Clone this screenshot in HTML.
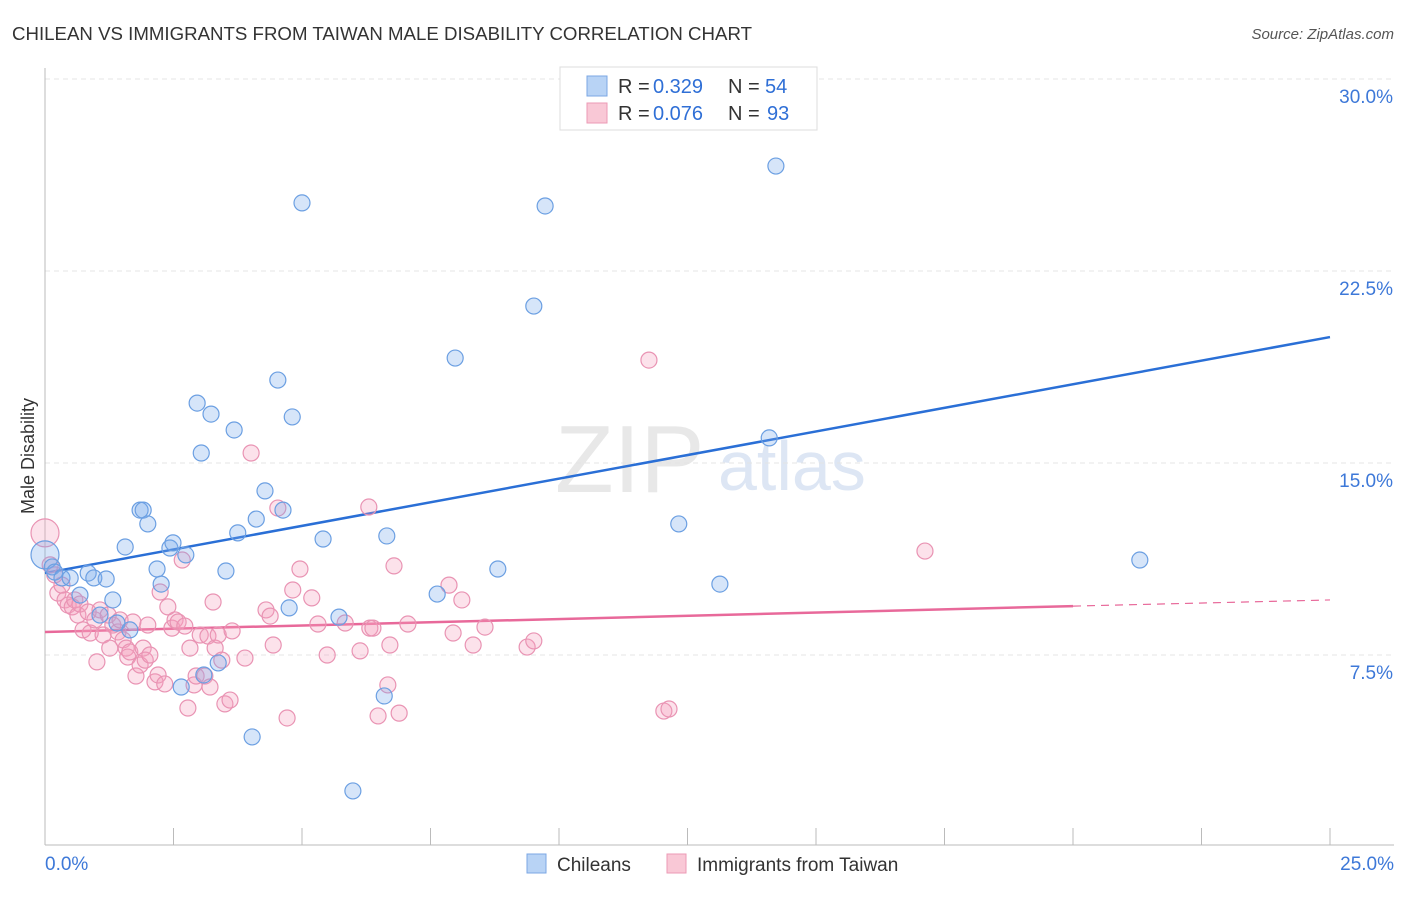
<!DOCTYPE html>
<html><head><meta charset="utf-8"><style>
body{margin:0;background:#fff;font-family:"Liberation Sans",sans-serif;}
svg text{font-family:"Liberation Sans",sans-serif;}
</style></head><body>
<svg id="chart" width="1406" height="892" xmlns="http://www.w3.org/2000/svg">
<text x="12" y="40" font-size="18" fill="#333" textLength="740" lengthAdjust="spacingAndGlyphs">CHILEAN VS IMMIGRANTS FROM TAIWAN MALE DISABILITY CORRELATION CHART</text>
<text x="1394" y="39" font-size="15" fill="#555" text-anchor="end" font-style="italic">Source: ZipAtlas.com</text>
<text x="555" y="492" font-size="96" fill="#e8e8e8" font-family="Liberation Serif">ZIP</text>
<text x="718" y="490" font-size="70" fill="#dde6f4">atlas</text>
<g id="grid"></g>
<g id="axes"></g>
<text transform="translate(34,456) rotate(-90)" font-size="18" fill="#333" text-anchor="middle">Male Disability</text>
<g id="lines"></g>
<g id="pts"></g>
<g>
<rect x="560" y="67" width="257" height="63" fill="#fff" stroke="#ddd"/>
<rect x="587" y="76" width="20" height="20" fill="#b8d3f5" stroke="#7ba7e4"/>
<rect x="587" y="103" width="20" height="20" fill="#f9c8d6" stroke="#ec9ab5"/>
<text x="618" y="93" font-size="20" fill="#333">R =</text>
<text x="653" y="93" font-size="20" fill="#2f6fd6">0.329</text>
<text x="728" y="93" font-size="20" fill="#333">N =</text>
<text x="765" y="93" font-size="20" fill="#2f6fd6">54</text>
<text x="618" y="120" font-size="20" fill="#333">R =</text>
<text x="653" y="120" font-size="20" fill="#2f6fd6">0.076</text>
<text x="728" y="120" font-size="20" fill="#333">N =</text>
<text x="767" y="120" font-size="20" fill="#2f6fd6">93</text>
</g>
<g>
<rect x="527" y="854" width="19" height="19" fill="#b8d3f5" stroke="#7ba7e4"/>
<text x="557" y="871" font-size="19" fill="#333">Chileans</text>
<rect x="667" y="854" width="19" height="19" fill="#f9c8d6" stroke="#ec9ab5"/>
<text x="697" y="871" font-size="19" fill="#333">Immigrants from Taiwan</text>
</g>
</svg>
<script>
const yTicks=[7.5,15,22.5,30];
const yTickLabels=["7.5%","15.0%","22.5%","30.0%"];
const xTickLabels=["0.0%","25.0%"];
const blueX=[0,.14,.19,.33,.49,.84,.68,.95,1.19,1.07,1.32,1.40,1.65,1.56,1.85,1.91,2.00,2.18,2.26,2.43,2.49,2.74,2.65,2.96,3.04,3.23,3.09,3.37,3.52,3.68,3.75,4.03,4.11,4.28,4.53,4.63,4.75,4.81,5.00,5.41,5.72,5.99,6.60,6.65,7.63,7.98,8.81,9.51,9.73,12.33,13.13,14.09,14.22,21.30];
const blueY=[11.41,10.94,10.74,10.51,10.51,10.70,9.84,10.51,10.47,9.06,9.65,8.75,8.48,11.72,13.16,13.16,12.62,10.86,10.27,11.68,11.88,11.41,6.25,17.34,15.39,16.91,6.72,7.19,10.78,16.29,12.27,4.30,12.81,13.91,18.24,13.16,9.34,16.80,25.16,12.03,8.98,2.19,5.90,12.15,9.88,19.10,10.86,21.13,25.04,12.62,10.27,15.98,26.60,11.21];
const pinkX=[0,.10,.19,.25,.33,.39,.45,.53,.58,.64,.68,.74,.84,.88,.97,1.01,1.07,1.13,1.23,1.26,1.32,1.42,1.46,1.52,1.58,1.61,1.65,1.71,1.77,1.85,1.91,1.95,2.00,2.04,2.14,2.20,2.24,2.33,2.39,2.47,2.53,2.59,2.67,2.72,2.78,2.82,2.90,2.94,3.02,3.11,3.21,3.17,3.27,3.31,3.37,3.44,3.50,3.60,3.64,3.89,4.01,4.30,4.38,4.44,4.53,4.71,4.82,4.96,5.19,5.31,5.49,5.84,6.13,6.30,6.32,6.38,6.48,6.67,6.71,6.79,6.89,7.06,7.86,7.94,8.11,8.33,8.56,9.38,9.51,11.75,12.04,12.14,17.12];
const pinkY=[12.27,11.02,10.63,9.92,10.23,9.65,9.45,9.38,9.65,9.06,9.49,8.48,9.18,8.36,8.87,7.23,9.26,8.28,9.06,7.77,8.67,8.40,8.87,8.09,7.77,7.42,7.62,8.79,6.68,7.11,7.77,7.30,8.67,7.50,6.45,6.72,9.96,6.37,9.38,8.55,8.87,8.79,11.21,8.63,5.43,7.77,6.33,6.68,8.28,6.68,6.25,8.24,9.57,7.77,8.28,7.30,5.59,5.74,8.44,7.38,15.39,9.26,9.02,7.89,13.24,5.04,10.04,10.86,9.73,8.71,7.50,8.75,7.66,13.28,8.55,8.55,5.12,6.33,7.89,10.98,5.23,8.71,10.23,8.36,9.65,7.89,8.59,7.81,8.05,19.02,5.31,5.39,11.56];
const blueTrend=[10.70,19.92];
const pinkTrend=[8.40,9.41,9.65];
const NS="http://www.w3.org/2000/svg";
const xs=v=>45+v*51.4, ys=v=>463-(v-15)*25.6;
function mk(tag,attrs,parent){const e=document.createElementNS(NS,tag);for(const k in attrs)e.setAttribute(k,attrs[k]);document.getElementById(parent).appendChild(e);return e;}
yTicks.forEach((t,i)=>{
 const g=mk('line',{x1:45,x2:1394,y1:ys(t),y2:ys(t),stroke:'#e4e4e4','stroke-dasharray':'5,4'},'grid');
 
 
 const l=mk('text',{x:1393,y:ys(t)+24,'font-size':19,fill:'#3d78d8','text-anchor':'end'},'axes');
 l.textContent=yTickLabels[i];
 
 
});
mk('line',{x1:45,x2:45,y1:68,y2:845,stroke:'#bbb'},'axes');
mk('line',{x1:45,x2:1394,y1:845,y2:845,stroke:'#bbb'},'axes');
for(let k=1;k<=10;k++){const t=mk('line',{x1:xs(k*2.5),x2:xs(k*2.5),y1:828,y2:845,stroke:'#bbb'},'axes');}
[[0,'start',45],[25,'end',1394]].forEach((a,i)=>{const t=mk('text',{x:a[2],y:870,'font-size':19,fill:'#3d78d8','text-anchor':a[1]},'axes');t.textContent=xTickLabels[i];});
function dot(x,y,r,f,s,name){const c=mk('circle',{cx:xs(x),cy:ys(y),r:r,fill:f,stroke:s,'stroke-width':1.2},'pts');}
pinkX.forEach((x,i)=>dot(x,pinkY[i],i==0?14:8,'rgba(244,160,188,0.3)','#e993b3','point-taiwan'));
blueX.forEach((x,i)=>dot(x,blueY[i],i==0?14:8,'rgba(120,170,235,0.3)','#6b9fe2','point-chilean'));
let b=mk('line',{x1:xs(0),y1:ys(blueTrend[0]),x2:xs(25),y2:ys(blueTrend[1]),stroke:'#2a6fd6','stroke-width':2.5},'lines');


let p=mk('line',{x1:xs(0),y1:ys(pinkTrend[0]),x2:xs(20),y2:ys(pinkTrend[1]),stroke:'#e8699a','stroke-width':2.5},'lines');


let pd=mk('line',{x1:xs(20),y1:ys(pinkTrend[1]),x2:xs(25),y2:ys(pinkTrend[2]),stroke:'#e8699a','stroke-width':1.2,'stroke-dasharray':'8,6'},'lines');


</script>
</body></html>
